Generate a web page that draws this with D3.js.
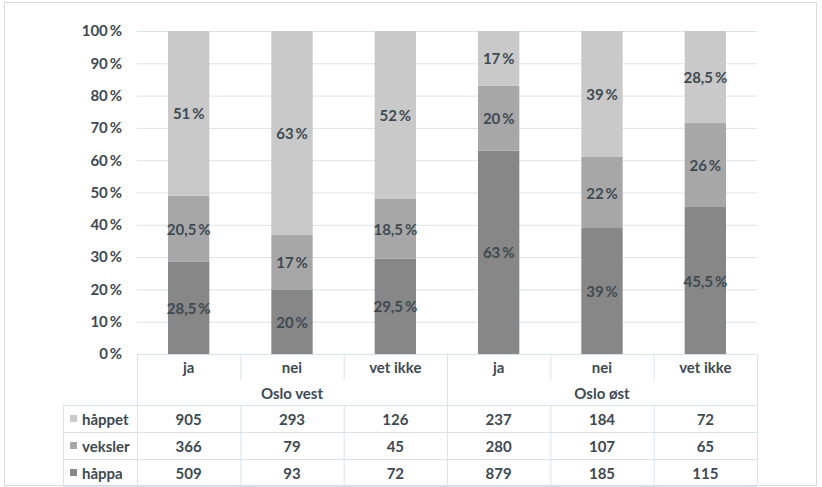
<!DOCTYPE html>
<html><head><meta charset="utf-8">
<script src="https://cdn.jsdelivr.net/npm/d3@7"></script>
<style>body{margin:0;background:#fff}text{font-family:Lato,"Open Sans",sans-serif;font-weight:700;fill:#3d4a52}</style>
</head><body><svg id="c" width="822" height="487"></svg>
<script>
const categories = ["ja","nei","vet ikke","ja","nei","vet ikke"];
const groups = ["Oslo vest","Oslo øst"];
const seriesNames = ["håppa","veksler","håppet"];
const pctHappa   = [28.5, 20, 29.5, 63, 39, 45.5];
const pctVeksler = [20.5, 17, 18.5, 20, 22, 26];
const pctHappet  = [51, 63, 52, 17, 39, 28.5];
const cntHappet  = [905, 293, 126, 237, 184, 72];
const cntVeksler = [366, 79, 45, 280, 107, 65];
const cntHappa   = [509, 93, 72, 879, 185, 115];
const yTicks = [0,10,20,30,40,50,60,70,80,90,100];
const colors = {"håppa":"#878787","veksler":"#a7a7a7","håppet":"#c9c9c9"};
const FS = 15;

const svg = d3.select("#c");
svg.append("rect").attr("x",4.5).attr("y",2.5).attr("width",812).attr("height",483)
  .attr("fill","#fff").attr("stroke","#d9d9d9");

const x = d3.scaleBand().domain(d3.range(categories.length)).range([137,757]).paddingInner(0.6).paddingOuter(0.3);
const xs = d3.scaleBand().domain(d3.range(categories.length)).range([137,757]).padding(0);
const y = d3.scaleLinear().domain([0,100]).range([354,31]);
const grid = "#d8e4ec";

svg.append("g").selectAll("line").data(yTicks).join("line")
  .attr("x1",137).attr("x2",757).attr("y1",d=>y(d)+0.5).attr("y2",d=>y(d)+0.5)
  .attr("stroke",grid);

const yAxis = d3.axisLeft(y).tickValues(yTicks).tickFormat(d=>d+"\u2009%").tickSize(0).tickPadding(0);
const ga = svg.append("g").attr("transform","translate(122,0)").call(yAxis);
ga.select(".domain").remove();
ga.selectAll("text").attr("font-size",FS).attr("font-family",null).attr("fill",null);

const rows = categories.map((c,i)=>({i, "håppa":pctHappa[i], "veksler":pctVeksler[i], "håppet":pctHappet[i]}));
const stack = d3.stack().keys(seriesNames)(rows);
const layers = svg.append("g").selectAll("g").data(stack).join("g").attr("fill",d=>colors[d.key]);
layers.selectAll("rect").data(d=>d).join("rect")
  .attr("x",d=>x(d.data.i)).attr("width",x.bandwidth())
  .attr("y",d=>y(d[1])).attr("height",d=>y(d[0])-y(d[1]));
const fmt = v => String(v).replace(".",",")+"\u2009%";
layers.selectAll("text").data(d=>d.map(s=>({s,key:d.key}))).join("text")
  .attr("x",d=>x(d.s.data.i)+x.bandwidth()/2).attr("y",d=>y((d.s[0]+d.s[1])/2))
  .attr("text-anchor","middle").attr("dominant-baseline","central").attr("font-size",FS)
  .text(d=>fmt(d.s.data[d.key]));

// data table
const tg = svg.append("g");
const rTop=354, rCat=380, rGrp=405, rowH=27;
const bounds = d3.range(categories.length+1).map(i=> i<categories.length ? xs(i) : 757);
tg.selectAll("line.v1").data(bounds).join("line").attr("class","v1")
  .attr("x1",d=>d+0.5).attr("x2",d=>d+0.5).attr("y1",rTop).attr("y2",rCat).attr("stroke",grid);
tg.selectAll("line.v2").data([137,447,757]).join("line").attr("class","v2")
  .attr("x1",d=>d+0.5).attr("x2",d=>d+0.5).attr("y1",rCat).attr("y2",rGrp).attr("stroke",grid);
tg.selectAll("line.v3").data([63].concat(bounds)).join("line").attr("class","v3")
  .attr("x1",d=>d+0.5).attr("x2",d=>d+0.5).attr("y1",rGrp).attr("y2",rGrp+3*rowH).attr("stroke",grid);
tg.selectAll("line.h").data(d3.range(4)).join("line").attr("class","h")
  .attr("x1",63).attr("x2",757).attr("y1",d=>rGrp+d*rowH+0.5).attr("y2",d=>rGrp+d*rowH+0.5).attr("stroke",grid);

tg.selectAll("text.cat").data(categories).join("text").attr("class","cat")
  .attr("x",(d,i)=>xs(i)+xs.bandwidth()/2).attr("y",367).attr("text-anchor","middle")
  .attr("dominant-baseline","central").attr("font-size",FS).text(d=>d);
tg.selectAll("text.grp").data(groups).join("text").attr("class","grp")
  .attr("x",(d,i)=>xs(i*3)+xs.bandwidth()*1.5).attr("y",393).attr("text-anchor","middle")
  .attr("dominant-baseline","central").attr("font-size",FS).text(d=>d);

const tableRows = [["håppet",cntHappet],["veksler",cntVeksler],["håppa",cntHappa]];
tableRows.forEach(([name,vals],r)=>{
  const cy = rGrp + r*rowH + rowH/2;
  tg.append("rect").attr("x",70).attr("y",cy-3.5).attr("width",7).attr("height",7).attr("fill",colors[name]);
  tg.append("text").attr("x",82).attr("y",cy).attr("dominant-baseline","central").attr("font-size",FS).text(name);
  tg.selectAll("text.r"+r).data(vals).join("text").attr("class","r"+r)
    .attr("x",(d,i)=>xs(i)+xs.bandwidth()/2).attr("y",cy).attr("text-anchor","middle")
    .attr("dominant-baseline","central").attr("font-size",FS).text(d=>d);
});
</script></body></html>
